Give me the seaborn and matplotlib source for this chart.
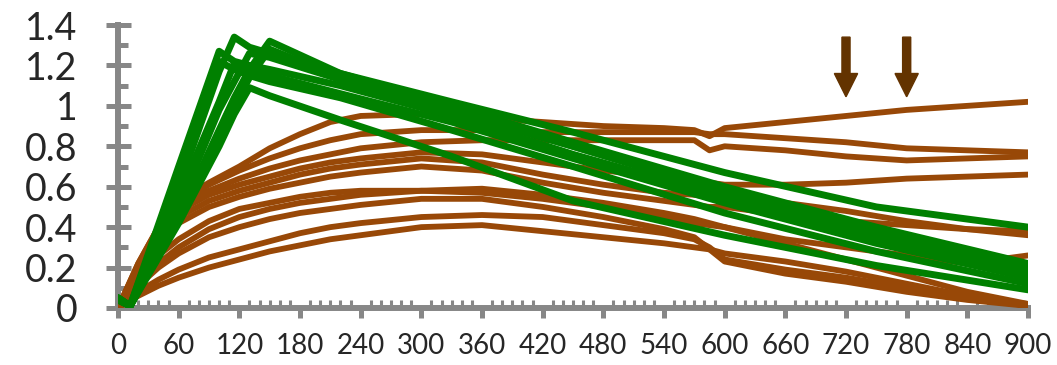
import pandas as pd
import matplotlib
matplotlib.use("Agg")
import matplotlib.pyplot as plt
import seaborn as sns
from matplotlib.ticker import MultipleLocator

sns.set_style("white")
plt.rcParams['font.family'] = ['Lato', 'DejaVu Sans']

# Colours
BROWN = '#984807'
GREEN = '#008000'
ARROW = '#633300'
GRAY = '#878787'

# Brown curves, all sampled on the same x grid
brown_x = [0, 20, 40, 60, 90, 120, 150, 180, 210, 240, 300, 360, 420, 480, 540, 570, 585, 600, 660, 720, 780, 840, 900]
brown_1 = [0, 0.22, 0.40, 0.53, 0.62, 0.70, 0.79, 0.86, 0.92, 0.95, 0.96, 0.94, 0.92, 0.90, 0.89, 0.88, 0.85, 0.89, 0.92, 0.95, 0.98, 1.00, 1.02]
brown_2 = [0, 0.22, 0.40, 0.52, 0.61, 0.68, 0.74, 0.79, 0.83, 0.86, 0.88, 0.88, 0.87, 0.87, 0.87, 0.87, 0.86, 0.86, 0.84, 0.82, 0.79, 0.78, 0.77]
brown_3 = [0, 0.21, 0.38, 0.50, 0.58, 0.64, 0.69, 0.73, 0.76, 0.79, 0.82, 0.83, 0.83, 0.83, 0.83, 0.83, 0.78, 0.80, 0.78, 0.75, 0.73, 0.74, 0.75]
brown_4 = [0, 0.20, 0.37, 0.48, 0.56, 0.61, 0.65, 0.69, 0.72, 0.74, 0.77, 0.76, 0.72, 0.68, 0.65, 0.63, 0.62, 0.61, 0.61, 0.62, 0.64, 0.65, 0.66]
brown_5 = [0, 0.19, 0.35, 0.45, 0.53, 0.58, 0.62, 0.66, 0.69, 0.71, 0.74, 0.72, 0.66, 0.61, 0.57, 0.56, 0.55, 0.54, 0.52, 0.48, 0.43, 0.39, 0.36]
brown_6 = [0, 0.18, 0.33, 0.42, 0.50, 0.55, 0.59, 0.62, 0.65, 0.67, 0.70, 0.68, 0.62, 0.57, 0.53, 0.51, 0.50, 0.50, 0.46, 0.43, 0.41, 0.39, 0.38]
brown_7 = [0, 0.14, 0.26, 0.34, 0.43, 0.49, 0.52, 0.55, 0.57, 0.58, 0.58, 0.57, 0.54, 0.50, 0.45, 0.42, 0.41, 0.40, 0.34, 0.30, 0.26, 0.22, 0.26]
brown_8 = [0, 0.12, 0.22, 0.30, 0.39, 0.45, 0.49, 0.52, 0.54, 0.56, 0.58, 0.59, 0.56, 0.52, 0.47, 0.44, 0.42, 0.40, 0.32, 0.24, 0.16, 0.08, 0.02]
brown_9 = [0, 0.11, 0.20, 0.27, 0.35, 0.40, 0.44, 0.47, 0.49, 0.51, 0.54, 0.54, 0.50, 0.45, 0.39, 0.35, 0.29, 0.23, 0.17, 0.13, 0.08, 0.04, 0.01]
brown_10 = [0, 0.08, 0.14, 0.19, 0.25, 0.29, 0.33, 0.37, 0.40, 0.42, 0.45, 0.46, 0.45, 0.41, 0.37, 0.34, 0.30, 0.24, 0.19, 0.15, 0.10, 0.05, 0.02]
brown_11 = [0, 0.06, 0.11, 0.15, 0.20, 0.24, 0.28, 0.31, 0.34, 0.36, 0.40, 0.41, 0.38, 0.35, 0.32, 0.30, 0.29, 0.27, 0.23, 0.18, 0.12, 0.06, 0.01]

# Green curves, all sampled on the same x grid
green_x = [0, 12, 60, 100, 115, 130, 150, 220, 330, 450, 600, 750, 900]
green_1 = [0.05, 0.01, 0.45, 0.88, 1.04, 1.18, 1.32, 1.16, 1.02, 0.87, 0.67, 0.50, 0.40]
green_2 = [0.05, 0.01, 0.60, 1.17, 1.34, 1.29, 1.26, 1.16, 1.00, 0.82, 0.60, 0.40, 0.22]
green_3 = [0.05, 0.01, 0.70, 1.27, 1.22, 1.20, 1.18, 1.10, 0.95, 0.76, 0.55, 0.35, 0.18]
green_4 = [0.04, 0.01, 0.55, 1.02, 1.21, 1.18, 1.15, 1.06, 0.92, 0.74, 0.52, 0.32, 0.15]
green_5 = [0.04, 0.01, 0.42, 0.80, 0.96, 1.09, 1.05, 0.93, 0.75, 0.53, 0.36, 0.21, 0.09]
green_6 = [0.05, 0.01, 0.50, 0.98, 1.12, 1.26, 1.24, 1.13, 0.97, 0.80, 0.58, 0.38, 0.20]
green_7 = [0.05, 0.01, 0.44, 0.85, 1.00, 1.14, 1.28, 1.14, 0.98, 0.80, 0.57, 0.36, 0.18]
green_8 = [0.04, 0.01, 0.66, 1.22, 1.18, 1.15, 1.12, 1.04, 0.88, 0.70, 0.47, 0.28, 0.12]

# Arrow markers
arrow_x = [720, 780]

y_ticks = [0, 0.2, 0.4, 0.6, 0.8, 1.0, 1.2, 1.4]
y_labels = ['0', '0.2', '0.4', '0.6', '0.8', '1', '1.2', '1.4']
x_ticks = list(range(0, 901, 60))


def to_long(xs, curves):
    frames = []
    for i, ys in enumerate(curves):
        frames.append(pd.DataFrame({'x': xs, 'y': ys, 'run': i}))
    return pd.concat(frames, ignore_index=True)


brown_df = to_long(brown_x, [brown_1, brown_2, brown_3, brown_4, brown_5, brown_6,
                             brown_7, brown_8, brown_9, brown_10, brown_11])
green_df = to_long(green_x, [green_1, green_2, green_3, green_4,
                             green_5, green_6, green_7, green_8])

fig = plt.figure(figsize=(10.57, 3.65), dpi=100)
ax = fig.add_axes([118 / 1057, 57 / 365, 910 / 1057, 283 / 365])

sns.lineplot(data=brown_df, x='x', y='y', units='run', estimator=None, color=BROWN,
             linewidth=4.2, solid_joinstyle='round', ax=ax, zorder=3, legend=False)
sns.lineplot(data=green_df, x='x', y='y', units='run', estimator=None, color=GREEN,
             linewidth=5.0, solid_joinstyle='round', ax=ax, zorder=3, legend=False)

for xa in arrow_x:
    ax.arrow(xa, 1.34, 0, -0.295, width=8, head_width=23, head_length=0.115,
             length_includes_head=True, color=ARROW, zorder=4, clip_on=False)

ax.set_xlim(0, 900)
ax.set_ylim(0, 1.4)
ax.set_xticks(x_ticks)
ax.set_yticks(y_ticks, y_labels)
ax.xaxis.set_minor_locator(MultipleLocator(10))
ax.yaxis.set_minor_locator(MultipleLocator(0.1))
ax.set_xlabel('')
ax.set_ylabel('')

for side in ['top', 'right']:
    ax.spines[side].set_visible(False)
for side in ['left', 'bottom']:
    ax.spines[side].set_color(GRAY)
    ax.spines[side].set_linewidth(4.3)

ax.tick_params(axis='y', which='major', direction='inout', length=18, width=3.6,
               color=GRAY, labelsize=27, pad=20, left=True)
ax.tick_params(axis='y', which='minor', direction='in', length=7, width=3.6,
               color=GRAY, left=True)
ax.tick_params(axis='x', which='major', direction='out', length=7, width=3.6,
               color=GRAY, labelsize=20, pad=11, bottom=True)
ax.tick_params(axis='x', which='minor', direction='in', length=5.5, width=2.2,
               color=GRAY, bottom=True)

fig.savefig('out.png', dpi=100)
